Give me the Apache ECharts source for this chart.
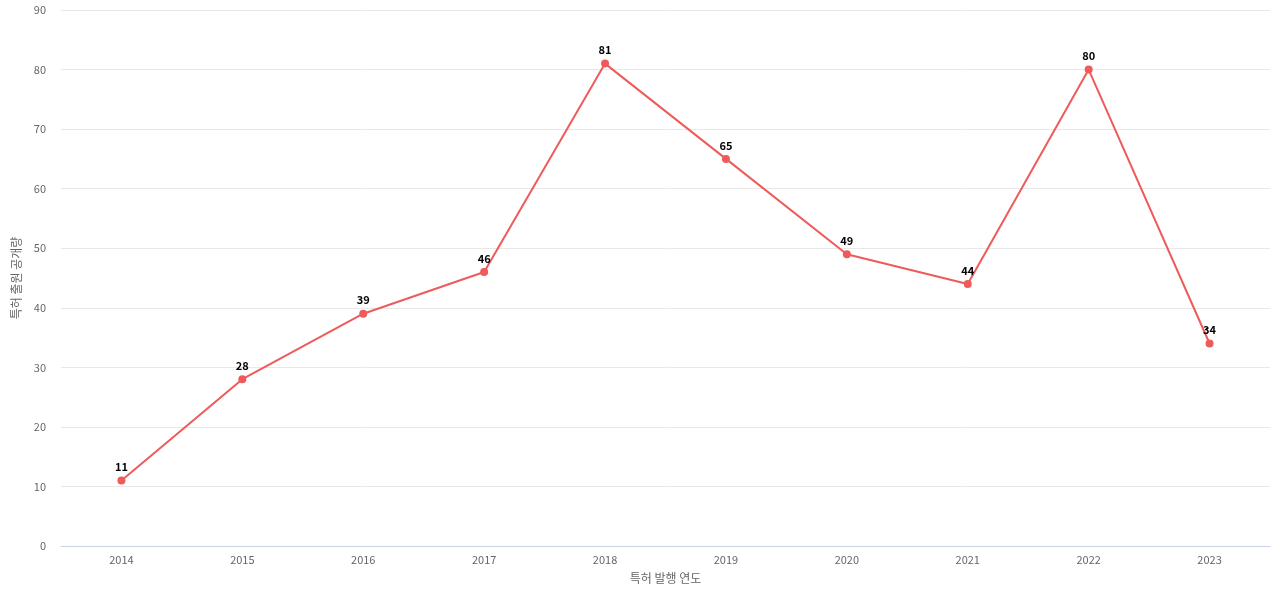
<!DOCTYPE html>
<html><head><meta charset="utf-8">
<script src="https://cdn.jsdelivr.net/npm/echarts@6/dist/echarts.min.js"></script>
<style>html,body{margin:0;padding:0;background:#fff}#main{width:1280px;height:600px}</style>
</head><body><div id="main"></div>
<script>
var years = ['2014','2015','2016','2017','2018','2019','2020','2021','2022','2023'];
var counts = [11, 28, 39, 46, 81, 65, 49, 44, 80, 34];

var chart = echarts.init(document.getElementById('main'));
chart.setOption({
    animation: false,
    textStyle: {fontFamily: "'Noto Sans CJK KR', sans-serif"},
    grid: {left: 61, right: 10, top: 10, bottom: 54},
    xAxis: {
        type: 'category',
        data: years,
        name: '특허 발행 연도',
        nameLocation: 'middle',
        nameGap: 26,
        nameTextStyle: {color: '#666', fontSize: 12},
        axisTick: {show: false},
        axisLine: {lineStyle: {color: '#c8d3e6'}},
        axisLabel: {color: '#666', fontSize: 11}
    },
    yAxis: {
        type: 'value',
        min: 0, max: 90, interval: 10,
        name: '특허 출원 공개량',
        nameLocation: 'middle',
        nameGap: 36,
        nameTextStyle: {color: '#666', fontSize: 12},
        axisLabel: {color: '#666', fontSize: 11, margin: 15},
        splitLine: {lineStyle: {color: '#e8e8e8'}}
    },
    series: [{
        type: 'line',
        data: counts,
        color: '#ef5a5a',
        symbol: 'circle',
        symbolSize: 8,
        lineStyle: {width: 2},
        label: {show: true, position: 'top', color: '#000', fontWeight: 'bold', fontSize: 11, distance: 4}
    }]
});
</script></body></html>
